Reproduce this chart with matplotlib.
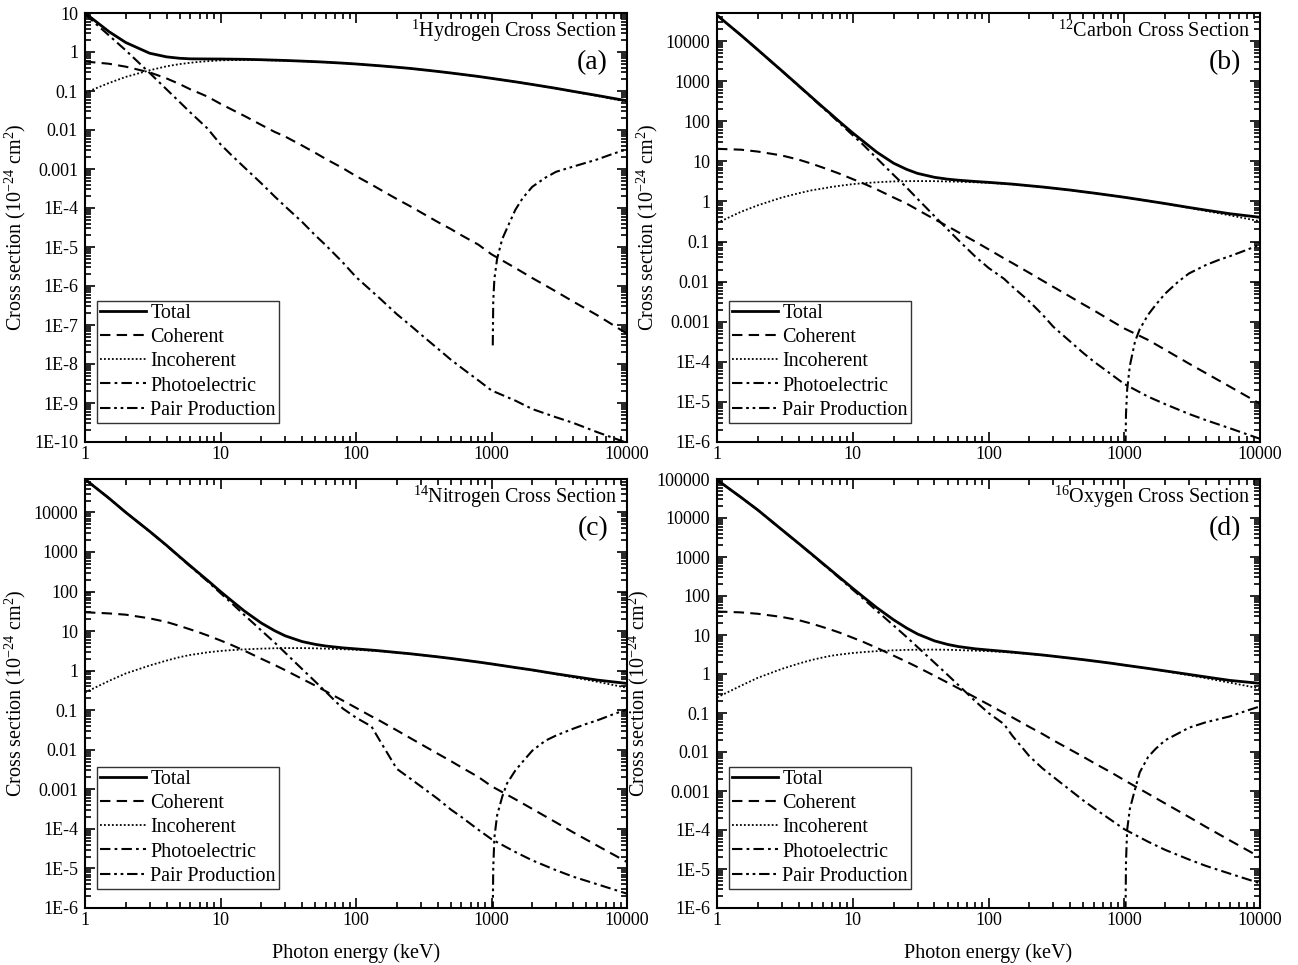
import math
import matplotlib
matplotlib.use("Agg")
import matplotlib.pyplot as plt
from matplotlib.ticker import LogLocator, FuncFormatter, NullFormatter

plt.rcParams['font.family'] = ['Liberation Serif', 'DejaVu Serif']
plt.rcParams['mathtext.fontset'] = 'custom'
plt.rcParams['mathtext.rm'] = 'Liberation Serif'
plt.rcParams['mathtext.it'] = 'Liberation Serif:italic'

# photon energies (keV)
energy = [1, 1.5, 2, 3, 4, 5, 6, 7, 8, 10, 12, 15, 20, 25, 30, 40, 50, 60, 80, 100,
          130, 150, 200, 250, 300, 400, 500, 600, 800, 1000, 1500, 2000, 3000, 4000, 6000, 10000]
energy_pair = [1022, 1030, 1050, 1100, 1200, 1300, 1500, 1700, 2000, 2500, 3000, 4000,
               5000, 6000, 8000, 10000]

# cross sections (1e-24 cm^2)
h_total = [10.0, 3.34, 1.75, 0.93, 0.75, 0.69, 0.668, 0.665, 0.663, 0.661, 0.656, 0.649, 0.634, 0.619,
           0.607, 0.584, 0.565, 0.548, 0.518, 0.493, 0.46, 0.443, 0.407, 0.38, 0.355, 0.318, 0.29,
           0.268, 0.236, 0.211, 0.172, 0.147, 0.117, 0.098, 0.077, 0.056]
h_coh = [0.57, 0.50, 0.42, 0.30, 0.21, 0.15, 0.11, 0.088, 0.072, 0.047, 0.034, 0.023, 0.0135, 0.0090,
         0.0068, 0.0040, 0.0026, 0.0018, 0.00105, 0.00066, 0.00040, 0.00030, 0.00017, 0.000112,
         7.8e-5, 4.4e-5, 2.9e-5, 2.0e-5, 1.15e-5, 6.5e-6, 2.9e-6, 1.6e-6, 7.2e-7, 4.0e-7, 1.8e-7, 6.0e-8]
h_incoh = [0.09, 0.16, 0.23, 0.34, 0.43, 0.49, 0.53, 0.56, 0.58, 0.61, 0.62, 0.625, 0.62, 0.61, 0.60,
           0.58, 0.562, 0.546, 0.517, 0.492, 0.46, 0.443, 0.407, 0.38, 0.355, 0.318, 0.29, 0.268,
           0.236, 0.211, 0.172, 0.147, 0.116, 0.097, 0.075, 0.053]
h_photo = [9.3, 2.68, 1.1, 0.29, 0.11, 0.052, 0.028, 0.017, 0.011, 0.0043, 0.0023, 0.0011, 4.3e-4,
           2.0e-4, 1.1e-4, 4.4e-5, 2.0e-5, 1.1e-5, 4.0e-6, 1.7e-6, 7.5e-7, 4.8e-7, 1.9e-7, 1.0e-7,
           5.8e-8, 2.5e-8, 1.3e-8, 8.0e-9, 3.8e-9, 2.1e-9, 1.15e-9, 7.0e-10, 4.3e-10, 3.1e-10,
           1.8e-10, 9.5e-11]
h_pair = [3.0e-8, 4e-7, 1.5e-6, 5e-6, 1.6e-5, 3e-5, 9e-5, 1.8e-4, 3.5e-4, 6e-4, 8.5e-4, 1.15e-3,
          1.45e-3, 1.75e-3, 2.5e-3, 3.2e-3]

c_total = [4.4e4, 1.4e4, 6020, 1815, 767, 392, 227, 145, 97, 51, 31.2, 17.0, 8.97, 6.28, 5.0, 3.99,
           3.59, 3.38, 3.14, 2.99, 2.80, 2.70, 2.46, 2.29, 2.14, 1.92, 1.74, 1.61, 1.41, 1.27, 1.03,
           0.885, 0.706, 0.606, 0.493, 0.402]
c_coh = [20.5, 19.5, 17.5, 14, 11, 8.7, 7.0, 5.8, 4.9, 3.6, 2.8, 2.0, 1.25, 0.88, 0.62, 0.36, 0.24,
         0.17, 0.099, 0.064, 0.038, 0.029, 0.0165, 0.0106, 0.0074, 0.0042, 0.0027, 0.0019, 0.00106,
         0.00068, 0.00035, 0.0002, 9e-5, 5.2e-5, 2.4e-5, 9e-6]
c_incoh = [0.29, 0.55, 0.8, 1.25, 1.6, 1.9, 2.1, 2.3, 2.45, 2.7, 2.85, 3.0, 3.15, 3.2, 3.22, 3.2, 3.15,
           3.1, 3.0, 2.9, 2.75, 2.66, 2.44, 2.28, 2.13, 1.91, 1.74, 1.61, 1.41, 1.27, 1.03, 0.88,
           0.69, 0.58, 0.45, 0.32]
c_photo = [4.4e4, 1.4e4, 6000, 1800, 754, 381, 218, 137, 89.6, 44.7, 25.5, 12.0, 4.57, 2.2, 1.16,
           0.43, 0.20, 0.108, 0.042, 0.022, 0.0118, 0.0075, 0.0032, 0.0015, 0.00075, 0.00032,
           0.000165, 1.0e-4, 4.9e-5, 2.8e-5, 1.35e-5, 8.8e-6, 5.0e-6, 3.5e-6, 2.2e-6, 1.2e-6]
c_pair = [8e-7, 5e-6, 2e-5, 8e-5, 3.2e-4, 6.5e-4, 1.5e-3, 2.6e-3, 5.0e-3, 1.0e-2, 1.6e-2, 2.6e-2,
          3.5e-2, 4.3e-2, 6.2e-2, 8.4e-2]

n_total = [6.9e4, 2.3e4, 1.0e4, 3322, 1469, 756, 443, 284, 194, 100, 59.8, 32.2, 16.0, 10.3, 7.6,
           5.44, 4.62, 4.19, 3.77, 3.55, 3.31, 3.17, 2.88, 2.68, 2.50, 2.24, 2.04, 1.88, 1.65, 1.48,
           1.20, 1.04, 0.83, 0.715, 0.58, 0.475]
n_coh = [30, 28, 26, 21, 17, 13.5, 11, 9.2, 7.8, 5.8, 4.5, 3.2, 2.0, 1.4, 1.03, 0.62, 0.42, 0.30,
         0.175, 0.115, 0.070, 0.054, 0.031, 0.020, 0.014, 0.0080, 0.0052, 0.0036, 0.00205, 0.0012,
         5.6e-4, 3.2e-4, 1.45e-4, 8.2e-5, 3.8e-5, 1.45e-5]
n_incoh = [0.28, 0.55, 0.85, 1.35, 1.8, 2.2, 2.5, 2.7, 2.9, 3.15, 3.3, 3.45, 3.6, 3.68, 3.72, 3.72,
           3.67, 3.6, 3.48, 3.37, 3.2, 3.1, 2.85, 2.66, 2.49, 2.23, 2.03, 1.88, 1.65, 1.48, 1.20,
           1.03, 0.81, 0.68, 0.525, 0.37]
n_photo = [6.9e4, 2.3e4, 1.0e4, 3300, 1450, 740, 430, 272, 183, 91, 52, 25.5, 10.4, 5.2, 2.85, 1.1,
           0.53, 0.29, 0.11, 0.065, 0.039, 0.017, 0.0033, 0.0019, 0.0012, 5.8e-4, 3.1e-4, 2.0e-4,
           9.5e-5, 5.5e-5, 2.6e-5, 1.6e-5, 9e-6, 6.2e-6, 4.0e-6, 2.3e-6]
n_pair = [8e-7, 1e-5, 6e-5, 2.2e-4, 6.5e-4, 1.4e-3, 3.0e-3, 5.0e-3, 9.5e-3, 1.7e-2, 2.3e-2, 3.4e-2,
          4.5e-2, 5.5e-2, 8.0e-2, 0.105]

o_total = [9.5e4, 3.4e4, 1.6e4, 5030, 2226, 1172, 689, 441, 300, 157, 94, 50.5, 24.5, 15.0, 10.6,
           7.07, 5.73, 5.05, 4.42, 4.12, 3.81, 3.64, 3.31, 3.07, 2.86, 2.55, 2.33, 2.15, 1.89, 1.69,
           1.39, 1.20, 0.975, 0.84, 0.685, 0.575]
o_coh = [40, 38, 35, 29, 24, 19.5, 16, 13.5, 11.5, 8.5, 6.6, 4.7, 2.95, 2.05, 1.5, 0.9, 0.6, 0.43,
         0.25, 0.165, 0.10, 0.077, 0.044, 0.029, 0.020, 0.0115, 0.0075, 0.0052, 0.0030, 0.0019,
         8.5e-4, 4.8e-4, 2.15e-4, 1.2e-4, 5.4e-5, 2.0e-5]
o_incoh = [0.25, 0.5, 0.8, 1.35, 1.85, 2.3, 2.65, 2.95, 3.15, 3.45, 3.65, 3.85, 4.05, 4.15, 4.2, 4.22,
           4.18, 4.1, 3.97, 3.85, 3.66, 3.54, 3.26, 3.04, 2.84, 2.54, 2.32, 2.14, 1.89, 1.69, 1.38,
           1.18, 0.93, 0.78, 0.60, 0.425]
o_photo = [9.5e4, 3.4e4, 1.6e4, 5000, 2200, 1150, 670, 425, 285, 145, 84, 42, 17.5, 8.8, 4.9, 1.95,
           0.95, 0.52, 0.2, 0.10, 0.052, 0.026, 0.0078, 0.0038, 0.0023, 0.00105, 5.7e-4, 3.6e-4,
           1.8e-4, 1.05e-4, 5e-5, 3.1e-5, 1.75e-5, 1.2e-5, 7.6e-6, 4.3e-6]
o_pair = [8e-7, 1.5e-5, 1e-4, 3.5e-4, 1.1e-3, 3.0e-3, 7.5e-3, 1.2e-2, 2.0e-2, 3.0e-2, 4.2e-2, 5.8e-2,
          7.0e-2, 8.2e-2, 0.115, 0.148]

titles = [r'$^{1}$Hydrogen Cross Section', r'$^{12}$Carbon Cross Section',
          r'$^{14}$Nitrogen Cross Section', r'$^{16}$Oxygen Cross Section']
tags = ['(a)', '(b)', '(c)', '(d)']
ylims = [(1e-10, 10), (1e-6, 5e4), (1e-6, 7e4), (1e-6, 1e5)]
panels = [(h_total, h_coh, h_incoh, h_photo, h_pair),
          (c_total, c_coh, c_incoh, c_photo, c_pair),
          (n_total, n_coh, n_incoh, n_photo, n_pair),
          (o_total, o_coh, o_incoh, o_photo, o_pair)]

W, H = 1298, 965
boxes = [(85, 13, 542, 429), (717, 13, 543, 429), (85, 479, 542, 429), (717, 479, 543, 429)]


def fmt(v, pos):
    if v >= 0.001:
        return ('%f' % v).rstrip('0').rstrip('.')
    return '1E%d' % round(math.log10(v))


fig = plt.figure(figsize=(W / 100, H / 100), dpi=100)
for i in range(4):
    x0, y0, w, h = boxes[i]
    ax = fig.add_axes([x0 / W, 1 - (y0 + h) / H, w / W, h / H])
    tot, coh, inc, pe, pp = panels[i]
    ax.plot(energy, tot, color='black', lw=2.0, ls='-', label='Total')
    ax.plot(energy, coh, color='black', lw=1.5, ls=(0, (5, 3)), label='Coherent')
    ax.plot(energy, inc, color='black', lw=1.3, ls=(0, (1, 1.2)), label='Incoherent')
    ax.plot(energy, pe, color='black', lw=1.5, ls=(0, (5, 2, 1.3, 2)), label='Photoelectric')
    ax.plot(energy_pair, pp, color='black', lw=1.5, ls=(0, (5, 1.8, 1.3, 1.8, 1.3, 1.8)),
            label='Pair Production')
    ax.set_xscale('log')
    ax.set_yscale('log')
    ax.set_xlim(1, 10000)
    ax.set_ylim(*ylims[i])

    ax.xaxis.set_major_locator(LogLocator(base=10, numticks=20))
    ax.xaxis.set_minor_locator(LogLocator(base=10, subs=range(2, 10), numticks=50))
    ax.yaxis.set_major_locator(LogLocator(base=10, numticks=20))
    ax.yaxis.set_minor_locator(LogLocator(base=10, subs=range(2, 10), numticks=50))
    ax.xaxis.set_major_formatter(FuncFormatter(lambda v, p: '%d' % round(v)))
    ax.yaxis.set_major_formatter(FuncFormatter(fmt))
    ax.xaxis.set_minor_formatter(NullFormatter())
    ax.yaxis.set_minor_formatter(NullFormatter())
    ax.tick_params(which='both', direction='in', top=True, right=True, labelsize=13, width=1.2)
    ax.tick_params(which='major', length=7)
    ax.tick_params(which='minor', length=4)
    ax.tick_params(axis='x', which='major', pad=3)
    ax.tick_params(axis='y', which='major', pad=5)
    for s in ax.spines.values():
        s.set_linewidth(1.5)

    ax.set_ylabel('Cross section (10$^{-24}$ cm$^{2}$)', fontsize=14.5, labelpad=4)
    if i >= 2:
        ax.set_xlabel('Photon energy (keV)', fontsize=14.5, labelpad=10)

    ax.text(0.982, 0.958, titles[i], transform=ax.transAxes, ha='right', va='center', fontsize=14.5)
    ax.text(0.965, 0.885, tags[i], transform=ax.transAxes, ha='right', va='center', fontsize=20)

    leg = ax.legend(loc='lower left', bbox_to_anchor=(0.022, 0.045), borderaxespad=0,
                    fontsize=14.5, frameon=True, fancybox=False, edgecolor='black',
                    handlelength=2.3, handletextpad=0.2, labelspacing=0.25, borderpad=0.15)
    leg.get_frame().set_linewidth(1.0)

fig.savefig('out.png', dpi=100)
